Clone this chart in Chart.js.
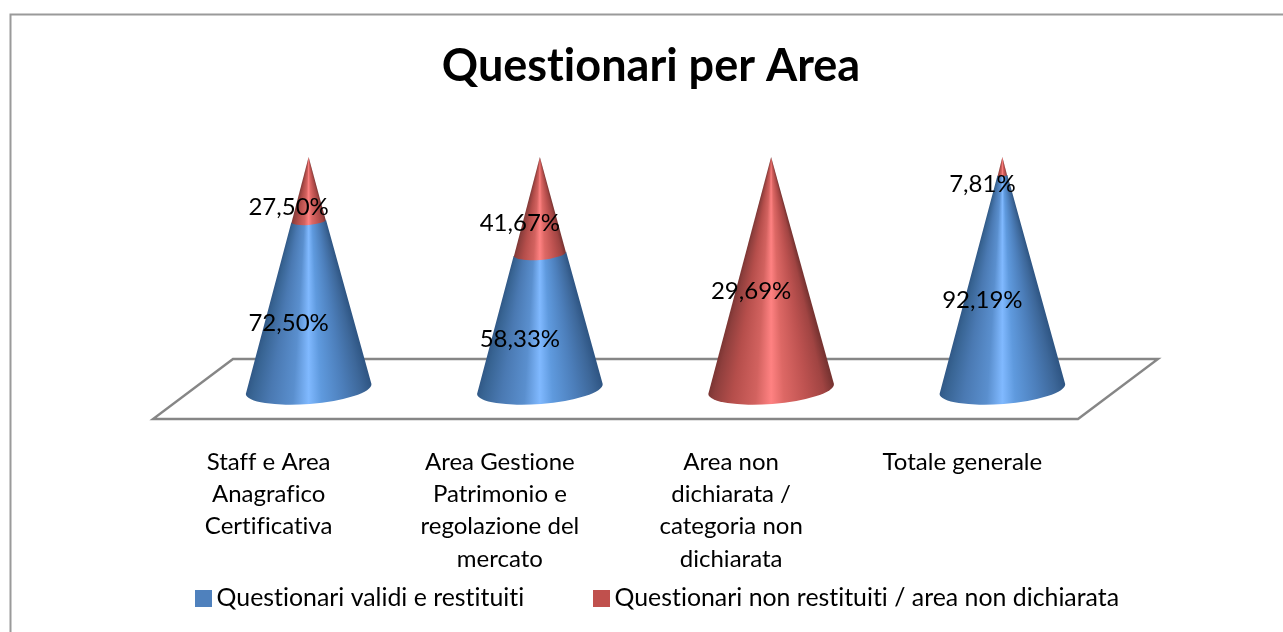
<!DOCTYPE html>
<html><head><meta charset="utf-8">
<style>html,body{margin:0;padding:0;background:#fff;overflow:hidden}canvas{display:block}</style>
<script src="https://cdn.jsdelivr.net/npm/chart.js@4"></script>
</head><body><canvas id="c" width="1283" height="632" style="width:1283px;height:632px"></canvas>
<script>
const categories = [
  ["Staff e Area","Anagrafico","Certificativa"],
  ["Area Gestione","Patrimonio e","regolazione del","mercato"],
  ["Area non","dichiarata /","categoria non","dichiarata"],
  ["Totale generale"]
];
const seriesNames = ["Questionari validi e restituiti","Questionari non restituiti / area non dichiarata"];
const validi = [72.50, 58.33, 0, 92.19];
const nonRestituiti = [27.50, 41.67, 29.69, 7.81];
const legendColors = ["#4F81BD","#C0504D"];
const shadeStops = [0,.06,.2,.38,.5,.6,.78,.92,1];
const shades = [
  ["#2f5684","#386493","#4a79b2","#5a8fce","#80b9ff","#5f9ade","#4c7eba","#3d6799","#2f5684"],
  ["#773331","#8f3f3d","#b54e4b","#d2625f","#ff8282","#dd6865","#bd5250","#a04442","#773331"]
];
const FONT = "Lato, Carlito, Calibri, sans-serif";
const share = (a, b) => a.map((v, i) => v / (v + b[i]) * 100);

function swatch(color){
  const s = document.createElement('canvas'); s.width = 17; s.height = 17;
  const g = s.getContext('2d'); g.fillStyle = color; g.fillRect(0,0,17,17);
  return s;
}
const DX = 40, DY = 30, LX = 20, LY = 12, ROT = -4.5*Math.PI/180;

const conePlugin = {
  id:'cone',
  afterLayout(chart){
    const shift = (b,d)=>{ b.left += d; b.right += d; };
    shift(chart.titleBlock, 9.5);
    shift(chart.legend, 20);
    chart.legend.top = 586 - 76;
  },
  beforeDraw(chart){
    const c = chart.ctx;
    c.letterSpacing = '0.01px';
    c.save(); c.fillStyle='#fff'; c.fillRect(0,0,chart.width,chart.height);
    c.strokeStyle='#9a9a9a'; c.lineWidth=2;
    c.beginPath(); c.moveTo(10.5,632); c.lineTo(10.5,14.5); c.lineTo(1283,14.5); c.stroke();
    c.restore();
  },
  beforeDatasetsDraw(chart){
    const c = chart.ctx, x = chart.scales.x, y = chart.scales.y, b = y.getPixelForValue(0);
    c.save(); c.strokeStyle='#868686'; c.lineWidth=2.4; c.lineJoin='miter';
    c.beginPath(); c.moveTo(x.left,b); c.lineTo(x.right,b); c.lineTo(x.right+2*DX,b-2*DY);
    c.lineTo(x.left+2*DX,b-2*DY); c.closePath(); c.stroke(); c.restore();
  },
  beforeDatasetDraw(chart,args){
    const c = chart.ctx, y = chart.scales.y;
    const zero = y.getPixelForValue(0), top = y.getPixelForValue(100), h = zero-top;
    const cols = shades[args.index];
    args.meta.data.forEach(el=>{
      if (Math.abs(el.base-el.y) < 0.01) return;
      const R = el.width/2, cx = el.x+DX;
      const lv = py => { const f = (zero-py)/h; return {w:R*(1-f), ry:15*(1-f), cy:py-DY}; };
      const B = lv(el.base), T = lv(el.y);
      const alpha = Math.atan(R/h);
      const g = c.createConicGradient(Math.PI/2-alpha,cx,top-DY);
      shadeStops.forEach((s,i)=>g.addColorStop((1-s)*alpha/Math.PI,cols[i]));
      g.addColorStop(1,cols[0]);
      const ext = args.index===1 && el.base<zero-0.5 ? 1.2 : 0;
      c.save(); c.fillStyle=g; c.beginPath();
      c.ellipse(cx,B.cy+ext,B.w,B.ry,ROT,0,Math.PI,false);
      if (T.w>0.01) c.ellipse(cx,T.cy,T.w,T.ry,ROT,Math.PI,0,true);
      else c.lineTo(cx,T.cy);
      c.closePath(); c.fill(); c.restore();
    });
    return false;
  },
  afterDatasetsDraw(chart){
    const c = chart.ctx;
    c.save(); c.fillStyle='#000'; c.font='24px '+FONT; c.textAlign='center'; c.textBaseline='middle';
    [validi,nonRestituiti].forEach((vals,d)=>{
      chart.getDatasetMeta(d).data.forEach((el,i)=>{
        if(!vals[i]) return;
        c.fillText(vals[i].toFixed(2).replace('.',',')+'%', el.x+LX, (el.y+el.base)/2-LY);
      });
    });
    c.restore();
  }
};

new Chart(document.getElementById('c'),{
  type:'bar',
  data:{labels:categories,datasets:[
    {label:seriesNames[0],data:share(validi,nonRestituiti),backgroundColor:legendColors[0],stack:'s'},
    {label:seriesNames[1],data:share(nonRestituiti,validi),backgroundColor:legendColors[1],stack:'s'}
  ]},
  plugins:[conePlugin],
  options:{
    responsive:false,animation:false,
    layout:{padding:0},
    datasets:{bar:{categoryPercentage:1,barPercentage:0.545}},
    scales:{
      x:{stacked:true,grid:{display:false},border:{display:false},
        ticks:{color:'#000',font:{family:FONT,size:24,lineHeight:1.346},padding:19,maxRotation:0,minRotation:0,autoSkip:false},
        afterFit(s){s.height=173;}},
      y:{stacked:true,min:0,max:100,display:false,afterFit(s){s.width=153;}},
      yr:{position:'right',display:false,afterFit(s){s.width=205;}}
    },
    plugins:{
      tooltip:{enabled:false},
      title:{display:true,text:"Questionari per Area",color:'#000',font:{family:FONT,size:45,weight:'bold',lineHeight:1.2},padding:{top:39,bottom:94}},
      legend:{position:'bottom',maxHeight:40,onClick:null,
        labels:{usePointStyle:true,pointStyleWidth:2,padding:76,color:'#000',font:{family:FONT,size:24.85},
          generateLabels:()=>seriesNames.map((t,i)=>({text:t,pointStyle:swatch(legendColors[i]),fillStyle:legendColors[i],strokeStyle:legendColors[i],lineWidth:0,datasetIndex:i}))}
      }
    }
  }
});
</script></body></html>
